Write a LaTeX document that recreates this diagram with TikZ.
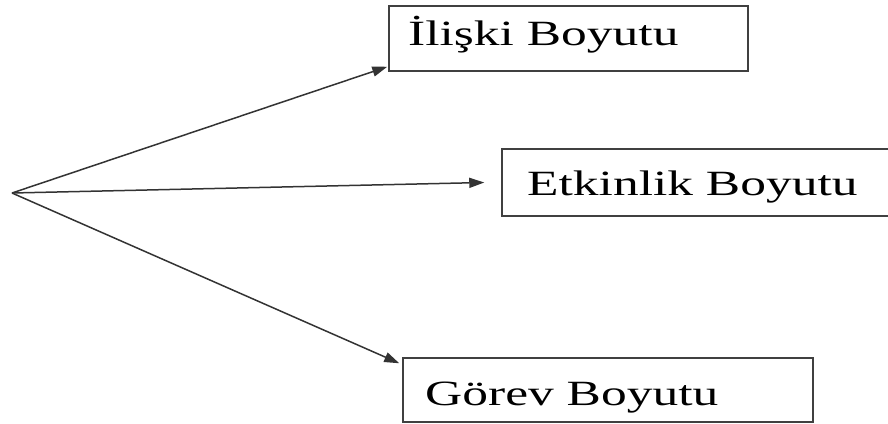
\documentclass[tikz,border=0pt]{standalone}
\usepackage{fontspec}
\usepackage{graphicx}
\setmainfont{Liberation Serif}
\usetikzlibrary{arrows.meta,calc}
\begin{document}
\begin{tikzpicture}[x=1pt,y=-1pt,
  dimbox/.style={draw=black!75, line width=1.5pt, rectangle, inner sep=0pt},
  lbl/.style={anchor=base west, inner sep=0pt, font=\fontsize{35.5}{40}\selectfont},
  link/.style={draw=black!80, line width=1.5pt, -{Triangle[length=15pt,width=10pt]}}]
\path[use as bounding box] (0,0) rectangle (888,423);
\clip (0,0) rectangle (888,423);

% the three dimension boxes
\node[dimbox, minimum width=359pt, minimum height=65pt] (b1) at (568.5,38.5) {};
\node[dimbox, minimum width=403pt, minimum height=67pt] (b2) at (703.5,182.5) {};
\node[dimbox, minimum width=410pt, minimum height=64pt] (b3) at (608,390) {};

% their labels
\node[lbl] (t1) at (408,45) {\scalebox{1.45}[1]{İlişki Boyutu}};
\node[lbl] (t2) at (527,195) {\scalebox{1.45}[1]{Etkinlik Boyutu}};
\node[lbl] (t3) at (425,405) {\scalebox{1.45}[1]{Görev Boyutu}};

% common origin of the arrows
\coordinate (src) at (12,193);
\draw[link] (src) -- ($(b1.south west)+(-1,-5)$);
\draw[link] (src) -- ($(b2.west)+(-17,0)$);
\draw[link] (src) -- ($(b3.north west)+(-3,6)$);
\end{tikzpicture}
\end{document}
